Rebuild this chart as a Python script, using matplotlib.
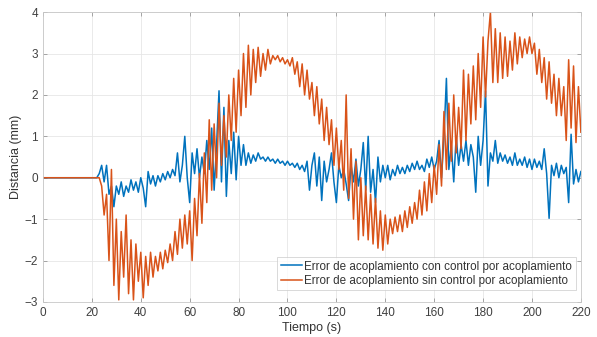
import numpy as np
import matplotlib
matplotlib.use("Agg")
import matplotlib.pyplot as plt

plt.rcParams['font.family'] = ['Liberation Sans', 'DejaVu Sans']

# tiempo (s), un punto por segundo
t = np.arange(0, 221, 1)

# error de acoplamiento con control (azul), 0..220 s
con_control = [0.0] * 23 + [
    0.1, 0.3, -0.1, 0.3, -0.4, -0.2, -0.7, -0.2, -0.4, -0.1,
    -0.45, -0.2, -0.35, -0.05, -0.3, -0.1, -0.35, 0.0, -0.25, -0.7,
    0.15, -0.15, 0.05, -0.2, 0.05, -0.1, 0.1, -0.05, 0.15, 0.0,
    0.2, 0.05, 0.6, -0.1, 0.3, 1.0, 0.0, -0.6, 0.6, 0.1,
    0.7, 0.0, 0.5, 0.1, 0.9, 0.2, 1.2, -0.3, 0.8, 2.1,
    -0.1, 1.7, -0.45, 0.9, 0.1, 1.1, -0.05, 1.0, 0.3, 0.8,
    0.3, 0.6, 0.35, 0.55, 0.4, 0.6, 0.45, 0.5, 0.4, 0.5,
    0.4, 0.45, 0.35, 0.45, 0.35, 0.4, 0.3, 0.4, 0.3, 0.35,
    0.25, 0.35, 0.2, 0.3, 0.15, 0.4, -0.3, 0.3, 0.6, -0.2,
    0.5, -0.55, 0.4, -0.1, 0.2, 0.6, -0.1, -0.6, 0.3, 0.0,
    0.2, -0.15, -0.55, 0.3, -0.1, 0.45, -0.2, 0.2, 0.85, -0.3,
    1.0, -0.35, 0.2, -0.6, 0.5, -0.1, 0.3, 0.0, 0.3, -0.05,
    0.2, 0.05, 0.3, 0.1, 0.25, 0.1, 0.3, 0.15, 0.35, 0.2,
    0.4, 0.2, 0.3, 0.15, 0.45, 0.25, 0.5, 0.2, 0.4, 0.9,
    0.0, 1.0, 2.4, 0.2, 0.8, -0.1, 1.0, 0.3, 0.8, 0.4,
    0.9, 0.3, 0.8, 0.5, -0.35, 1.0, 0.3, 0.9, 2.1, -0.2,
    0.6, 0.4, 0.9, 0.35, 0.6, 0.4, 0.55, 0.35, 0.5, 0.3,
    0.6, 0.3, 0.45, 0.3, 0.5, 0.25, 0.45, 0.2, 0.45, 0.25,
    0.4, 0.2, 0.7, 0.1, -0.98, 0.3, 0.05, 0.35, 0.0, 0.3,
    0.1, 0.25, -0.6, 1.05, -0.15, 0.2, -0.1, 0.15,
]

# error de acoplamiento sin control (naranja), 0..220 s
sin_control = [0.0] * 23 + [
    0.0, -0.2, -0.9, -0.4, -2.0, 0.2, -2.6, -1.0, -2.95, -1.3,
    -2.4, -0.9, -2.8, -1.5, -2.95, -1.6, -2.5, -1.8, -2.9, -1.9,
    -2.6, -1.8, -2.4, -1.9, -2.25, -1.8, -2.2, -1.75, -2.05, -1.6,
    -2.0, -1.3, -1.85, -1.0, -1.7, -0.9, -1.6, -0.8, -2.0, -0.5,
    -1.4, 0.1, -1.1, 0.6, -0.6, 1.4, -0.3, 1.3, 0.0, 1.8,
    0.3, 1.5, 0.5, 2.0, 0.9, 2.4, 1.1, 2.6, 1.5, 3.0,
    1.7, 3.2, 2.0, 3.1, 2.3, 3.15, 2.45, 3.0, 2.6, 3.1,
    2.75, 2.95, 2.85, 2.95, 2.8, 2.9, 2.75, 2.85, 2.7, 2.9,
    2.5, 2.8, 2.2, 2.75, 2.0, 2.6, 1.9, 2.3, 1.5, 2.2,
    1.3, 1.9, 0.9, 1.7, 0.8, 1.4, 0.3, 1.2, 0.2, 0.9,
    -0.3, 2.0, -0.5, 0.7, -1.0, 0.4, -1.5, 0.0, -1.4, -0.2,
    -1.5, -0.4, -1.6, -0.5, -1.7, -0.8, -1.75, -0.9, -1.6, -1.0,
    -1.35, -0.95, -1.3, -0.9, -1.3, -0.8, -1.2, -0.7, -1.1, -0.6,
    -1.0, -0.3, -0.9, -0.1, -0.8, 0.1, -0.6, 0.3, -0.4, 0.8,
    -0.2, 1.6, 0.2, 1.8, 0.4, 2.0, 0.6, 1.7, 0.7, 2.6,
    0.9, 2.5, 1.3, 2.7, 1.4, 3.0, 1.7, 3.4, 1.95, 3.3,
    4.0, 2.3, 3.6, 2.3, 3.5, 2.4, 3.4, 2.45, 3.3, 2.6,
    3.5, 2.75, 3.4, 2.9, 3.35, 3.0, 3.4, 3.0, 3.25, 2.5,
    3.1, 2.3, 2.9, 1.9, 2.8, 1.8, 2.5, 1.5, 2.4, 1.5,
    2.2, 0.9, 2.85, 1.2, 2.7, 0.85, 2.2, 1.1,
]

etiquetas = ['Error de acoplamiento con control por acoplamiento',
             'Error de acoplamiento sin control por acoplamiento']

fig = plt.figure(figsize=(5.97, 3.37), dpi=100)
ax = fig.add_axes([0.072, 0.104, 0.901, 0.860])

ax.plot(t, con_control, color='#0072BD', lw=1.1, label=etiquetas[0])
ax.plot(t, sin_control, color='#D95319', lw=1.1, label=etiquetas[1])

ax.set_xlim(0, 220)
ax.set_ylim(-3, 4)
ax.set_xticks(np.arange(0, 221, 20))
ax.set_yticks(np.arange(-3, 5, 1))
ax.grid(True, color='#e6e6e6', lw=0.6)
ax.set_axisbelow(True)
for s in ax.spines.values():
    s.set_color('#c8c8c8')
    s.set_linewidth(0.6)
ax.tick_params(direction='in', length=3, width=0.5, color='#888888',
               labelsize=8.5, labelcolor='#404040', top=True, right=True)

ax.set_xlabel('Tiempo (s)', fontsize=9, color='#333333', labelpad=2)
ax.set_ylabel('Distancia (mm)', fontsize=9, color='#333333', labelpad=2)

leg = ax.legend(loc='lower right', bbox_to_anchor=(0.99, 0.04), fontsize=8.4,
                frameon=True, fancybox=False, borderpad=0.3, labelspacing=0.2,
                handlelength=1.8, handletextpad=0.2, borderaxespad=0)
leg.get_frame().set_edgecolor('#c8c8c8')
leg.get_frame().set_linewidth(0.6)
for txt in leg.get_texts():
    txt.set_color('#333333')

fig.savefig('out.png', dpi=100)
